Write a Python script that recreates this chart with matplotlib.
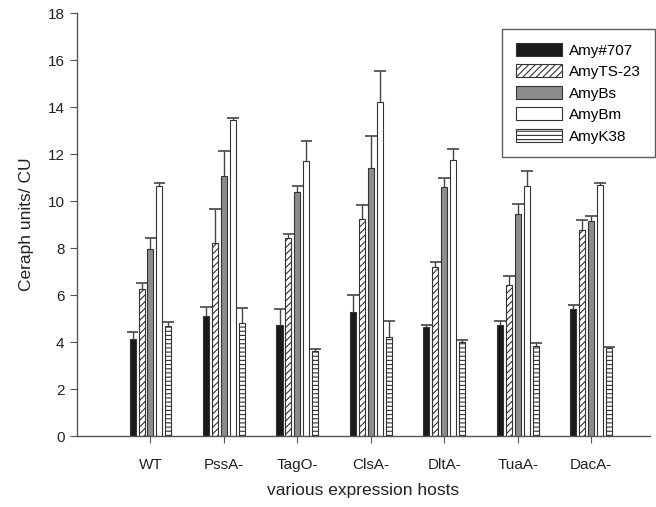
import numpy as np
import matplotlib.pyplot as plt

plt.rcParams['font.family'] = ['Liberation Sans', 'DejaVu Sans']
plt.rcParams['hatch.linewidth'] = 0.8

# --- Daten ---
hosts = ["WT", "PssA-", "TagO-", "ClsA-", "DltA-", "TuaA-", "DacA-"]
series = ["Amy#707", "AmyTS-23", "AmyBs", "AmyBm", "AmyK38"]

amy707 = [4.13, 5.10, 4.71, 5.29, 4.65, 4.71, 5.42]
amy707_err = [0.31, 0.38, 0.68, 0.72, 0.06, 0.20, 0.14]
amyts23 = [6.24, 8.23, 8.41, 9.22, 7.18, 6.44, 8.75]
amyts23_err = [0.26, 1.45, 0.20, 0.61, 0.22, 0.37, 0.44]
amybs = [7.97, 11.08, 10.37, 11.42, 10.62, 9.47, 9.16]
amybs_err = [0.44, 1.06, 0.28, 1.36, 0.37, 0.42, 0.20]
amybm = [10.64, 13.45, 11.72, 14.23, 11.77, 10.64, 10.68]
amybm_err = [0.14, 0.08, 0.86, 1.33, 0.46, 0.66, 0.10]
amyk38 = [4.68, 4.80, 3.63, 4.23, 4.00, 3.83, 3.76]
amyk38_err = [0.16, 0.63, 0.09, 0.66, 0.09, 0.14, 0.03]

values = [amy707, amyts23, amybs, amybm, amyk38]
errors = [amy707_err, amyts23_err, amybs_err, amybm_err, amyk38_err]

# Stil je Serie
faces = ["#1a1a1a", "white", "#8c8c8c", "white", "white"]
hatches = [None, "/////", None, None, "----"]
edge = "#333333"

fig = plt.figure(figsize=(6.56, 5.07), dpi=100)
ax = fig.add_axes([0.1174, 0.140, 0.8736, 0.834])

x = np.arange(1, len(hosts) + 1)
pitch = 0.122
width = 0.082
cap = 0.08

for i, (vals, errs) in enumerate(zip(values, errors)):
    pos = x + (i - 2) * pitch
    vals = np.array(vals)
    errs = np.array(errs)
    ax.bar(pos, vals, width=width, color=faces[i], edgecolor=edge,
           hatch=hatches[i], linewidth=0.8, label=series[i], zorder=2)
    # nur obere Fehlerbalken
    ax.vlines(pos, vals, vals + errs, color="#444444", linewidth=1.0, zorder=1)
    ax.hlines(vals + errs, pos - cap, pos + cap, color="#444444", linewidth=1.2, zorder=1)

ax.set_xlim(0, 7.8)
ax.set_ylim(0, 18)
ax.set_yticks(np.arange(0, 19, 2))
ax.set_xticks(x)
ax.set_xticklabels(hosts)

for s in ["top", "right"]:
    ax.spines[s].set_visible(False)
for s in ["left", "bottom"]:
    ax.spines[s].set_color("#555555")
    ax.spines[s].set_linewidth(1.0)

ax.tick_params(axis="x", direction="out", length=5, pad=11, labelsize=11,
               color="#555555", labelcolor="#222222")
ax.tick_params(axis="y", direction="out", length=5, pad=4, labelsize=11,
               color="#555555", labelcolor="#222222")

ax.set_ylabel("Ceraph units/ CU", fontsize=12.5, color="#222222", labelpad=10)
ax.set_xlabel("various expression hosts", fontsize=12.5, color="#222222", labelpad=8)

leg = ax.legend(loc="upper left", bbox_to_anchor=(0.742, 0.962), fontsize=11,
                frameon=True, fancybox=False, edgecolor="#333333",
                handlelength=3.0, handleheight=0.9, labelspacing=0.45,
                borderpad=0.9, handletextpad=0.5, borderaxespad=0)
leg.get_frame().set_linewidth(1.0)

plt.savefig("out.png", dpi=100)
